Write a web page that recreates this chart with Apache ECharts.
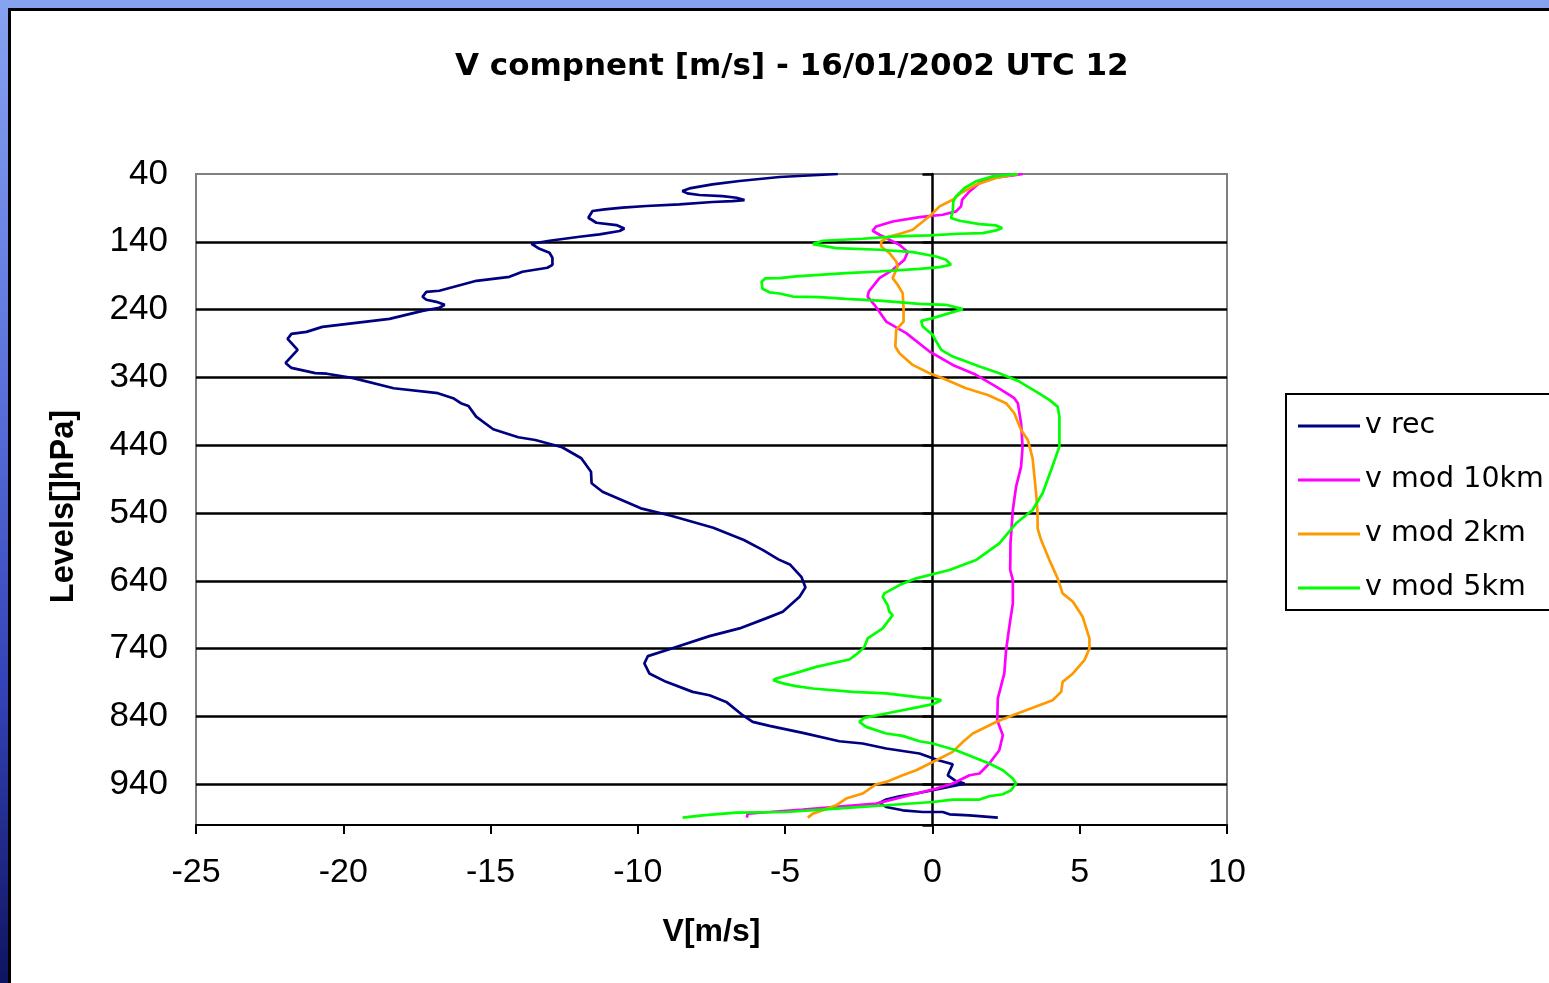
<!DOCTYPE html>
<html>
<head>
<meta charset="utf-8">
<title>V component profile</title>
<script src="https://cdn.jsdelivr.net/npm/echarts@6/dist/echarts.min.js"></script>
<style>
    html, body { margin: 0; padding: 0; }
    body {
        width: 1549px; height: 983px; overflow: hidden; position: relative;
        background: linear-gradient(180deg, #86a3f0 0%, #5f78de 35%, #3443b8 70%, #0f1460 100%);
    }
    #frame {
        position: absolute; left: 8px; top: 8px; right: 0; bottom: 0;
        background: #fff; border-left: 3px solid #000; border-top: 3px solid #000;
    }
    #chart { position: absolute; left: 0; top: 0; width: 1549px; height: 983px; }
</style>
</head>
<body>
<div id="frame"></div>
<div id="chart"></div>
<script>
// axis ranges
const xMin = -25, xMax = 10, xStep = 5;
const pMin = 40, pMax = 1000, pStep = 100;

const seriesNames = ['v rec', 'v mod 10km', 'v mod 2km', 'v mod 5km'];

// [v (m/s), level (hPa)]
const vRec = [
    [-3.21, 40], [-5.19, 44.4], [-6.55, 50.3], [-7.47, 55.4], [-8.25, 61.3], [-8.49, 65.1],
    [-8.32, 68.6], [-7.91, 71.0], [-7.13, 72.5], [-6.65, 75.0], [-6.38, 78.4], [-6.79, 79.9],
    [-7.47, 81.3], [-8.59, 84.9], [-9.71, 87.2], [-10.52, 89.7], [-11.13, 92.2], [-11.54, 94.6],
    [-11.68, 104.5], [-11.41, 111.9], [-10.73, 115.3], [-10.46, 120.3], [-10.62, 124.1],
    [-11.30, 129.1], [-11.98, 132.5], [-13.0, 138.4], [-13.61, 142.9], [-13.34, 150.3],
    [-13.0, 156.2], [-12.90, 163.5], [-12.90, 173.9], [-13.07, 178.3], [-13.92, 184.2],
    [-14.36, 191.6], [-15.48, 197.5], [-16.74, 212.2], [-17.18, 213.7], [-17.31, 221.1],
    [-17.18, 225.5], [-16.84, 228.5], [-16.56, 232.9], [-16.74, 237.3], [-17.31, 241.8],
    [-18.43, 253.6], [-20.71, 265.4], [-21.25, 272.8], [-21.76, 275.7], [-21.89, 283.1],
    [-21.55, 299.4], [-21.96, 318.6], [-21.76, 326.0], [-20.95, 333.7], [-20.56, 334.5],
    [-19.66, 341.1], [-18.29, 355.9], [-16.79, 363.2], [-16.27, 370.6], [-16.01, 378.0],
    [-15.75, 382.0], [-15.49, 397.8], [-14.91, 416.4], [-14.06, 428.2], [-13.48, 432.2],
    [-12.57, 442.9], [-11.92, 459.2], [-11.59, 479.0], [-11.57, 496.1], [-11.20, 508.5],
    [-9.90, 533.0], [-8.87, 543.9], [-7.44, 561.7], [-6.40, 579.8], [-5.75, 594.6],
    [-5.23, 608.3], [-4.84, 615.7], [-4.45, 634.0], [-4.31, 649.6], [-4.51, 663.5],
    [-5.08, 685.6], [-5.65, 695.3], [-6.55, 710.1], [-7.57, 721.5], [-8.93, 740.7],
    [-9.66, 751.0], [-9.78, 761.8], [-9.61, 776.5], [-9.04, 788.9], [-8.14, 803.7],
    [-7.57, 808.6], [-7.00, 818.5], [-6.44, 838.1], [-6.10, 848.0], [-5.53, 853.9],
    [-4.40, 864.2], [-3.16, 876.5], [-2.37, 879.8], [-1.57, 887.2], [-0.44, 894.6],
    [0.20, 904.5], [0.69, 910.5], [0.52, 926.7], [0.80, 935.2], [1.09, 939.0], [0.80, 941.5],
    [0.13, 947.7], [-0.55, 953.6], [-1.12, 957.6], [-1.57, 962.5], [-1.80, 967.5],
    [-1.57, 973.4], [-1.01, 978.3], [-0.33, 980.8], [0.35, 980.8], [0.58, 984.2],
    [1.26, 985.7], [2.22, 989.1]
];

const vMod10 = [
    [3.07, 40], [2.73, 42.1], [2.05, 45.9], [1.60, 53.3], [1.26, 65.7], [1.01, 77.9],
    [0.97, 87.8], [0.80, 95.2], [0.35, 100.1], [-0.44, 103.5], [-1.35, 110.0], [-1.91, 117.3],
    [-2.03, 123.7], [-1.80, 129.6], [-1.46, 137.0], [-1.12, 144.4], [-0.84, 155.1],
    [-0.95, 166.5], [-1.35, 181.3], [-1.80, 193.5], [-2.16, 213.3], [-2.20, 220.7],
    [-1.97, 232.9], [-1.57, 257.6], [-0.89, 274.7], [-0.10, 301.8], [0.69, 321.5],
    [1.48, 336.2], [2.16, 353.5], [2.61, 365.8], [2.78, 370.6], [2.90, 378.0], [3.01, 407.5],
    [3.06, 442.1], [3.01, 471.6], [2.84, 501.1], [2.73, 535.5], [2.65, 584.6], [2.64, 624.0],
    [2.73, 638.8], [2.73, 673.2], [2.61, 707.7], [2.50, 742.1], [2.44, 776.5], [2.22, 813.4],
    [2.20, 845.5], [2.39, 867.6], [2.27, 889.7], [1.93, 909.4], [1.60, 924.1], [1.26, 926.6],
    [0.69, 938.9], [0.13, 946.3], [-1.01, 958.7], [-1.91, 968.4], [-3.27, 973.4],
    [-4.40, 977.3], [-5.53, 980.8], [-6.27, 983.2], [-6.30, 989.1]
];

const vMod2 = [
    [2.90, 40], [2.16, 45.9], [1.48, 55.8], [0.97, 68.0], [0.69, 77.9], [0.24, 87.8],
    [-0.04, 100.1], [-0.67, 122.2], [-1.01, 127.1], [-1.46, 132.1], [-1.74, 139.5],
    [-1.74, 146.9], [-1.46, 156.6], [-1.23, 169.0], [-1.18, 176.4], [-1.35, 193.5],
    [-1.18, 203.4], [-1.01, 215.6], [-0.98, 237.8], [-0.98, 257.6], [-1.23, 269.8],
    [-1.26, 294.5], [-1.12, 304.2], [-0.67, 321.5], [-0.10, 333.7], [0.35, 341.1],
    [1.14, 355.9], [1.88, 365.8], [2.50, 378.0], [2.78, 392.8], [3.01, 417.4], [3.24, 432.2],
    [3.40, 459.2], [3.52, 510.8], [3.57, 540.4], [3.57, 562.5], [3.69, 579.8], [3.97, 609.3],
    [4.25, 636.3], [4.42, 658.4], [4.77, 670.8], [5.10, 693.0], [5.33, 724.9], [5.33, 739.6],
    [5.16, 756.9], [4.77, 776.5], [4.42, 788.9], [4.37, 803.7], [4.08, 816.0], [3.63, 823.3],
    [2.73, 838.1], [2.16, 848.0], [1.37, 865.1], [1.03, 877.5], [0.69, 892.2], [0.13, 904.5],
    [-0.55, 919.3], [-1.01, 926.6], [-1.57, 936.5], [-1.91, 939.9], [-2.37, 953.6],
    [-2.93, 961.0], [-3.27, 970.9], [-3.72, 978.3], [-4.06, 983.2], [-4.23, 989.1]
];

const vMod5 = [
    [2.90, 40], [2.05, 43.5], [1.48, 50.9], [1.09, 60.7], [0.80, 73.1], [0.71, 80.4],
    [0.69, 95.2], [0.63, 104.9], [0.92, 108.9], [1.60, 113.8], [2.16, 115.9], [2.37, 119.7],
    [2.16, 123.2], [1.71, 127.1], [0.92, 128.1], [-0.10, 130.6], [-1.23, 132.1],
    [-2.37, 135.5], [-3.72, 138.4], [-4.06, 143.3], [-3.27, 149.2], [-1.80, 151.7],
    [-0.67, 155.1], [0.13, 161.6], [0.46, 166.5], [0.63, 173.9], [0.24, 177.3],
    [-0.44, 179.8], [-1.80, 183.8], [-2.93, 186.1], [-4.63, 191.1], [-5.19, 193.5],
    [-5.67, 193.8], [-5.80, 199.0], [-5.77, 209.3], [-5.53, 214.5], [-5.19, 216.2],
    [-4.74, 220.7], [-3.84, 221.6], [-2.93, 224.1], [-1.80, 226.6], [-0.44, 231.4],
    [0.46, 232.9], [1.03, 239.3], [0.58, 245.2], [0.01, 252.5], [-0.38, 256.5],
    [-0.33, 264.9], [0.01, 277.2], [0.13, 287.1], [0.30, 299.3], [0.69, 309.2],
    [1.60, 324.0], [2.27, 333.7], [2.95, 346.1], [3.52, 360.9], [3.97, 373.1], [4.25, 383.0],
    [4.31, 397.8], [4.31, 442.1], [4.03, 476.5], [3.74, 510.8], [3.40, 535.5], [2.84, 555.1],
    [2.27, 584.6], [1.48, 609.3], [0.58, 624.0], [-0.55, 636.3], [-1.12, 646.2],
    [-1.63, 658.5], [-1.69, 663.5], [-1.52, 675.7], [-1.46, 685.6], [-1.35, 690.5],
    [-1.69, 710.1], [-2.20, 724.9], [-2.31, 737.3], [-2.54, 747.0], [-2.82, 755.9],
    [-3.95, 766.8], [-4.51, 774.2], [-5.30, 783.9], [-5.40, 786.4], [-5.25, 788.9],
    [-4.97, 792.3], [-4.63, 795.3], [-4.06, 798.7], [-2.71, 803.7], [-1.57, 806.0],
    [-0.44, 811.9], [0.01, 813.4], [0.30, 815.9], [0.01, 821.8], [-0.44, 825.8],
    [-1.57, 835.6], [-2.31, 842.0], [-2.48, 847.9], [-2.25, 855.3], [-1.57, 865.1],
    [-1.01, 868.6], [-0.44, 876.5], [0.01, 879.8], [0.80, 889.7], [1.93, 909.4],
    [2.39, 919.3], [2.73, 931.5], [2.84, 938.9], [2.67, 948.8], [2.39, 954.7], [1.93, 957.6],
    [1.60, 962.5], [0.69, 962.5], [0.01, 966.1], [-1.57, 970.9], [-3.27, 975.8],
    [-4.97, 980.8], [-6.66, 981.7], [-7.80, 985.7], [-8.48, 989.1]
];

const seriesData = [vRec, vMod10, vMod2, vMod5];
const seriesColors = ['#000080', '#ff00ff', '#ff9900', '#00ff00'];

const gridLeft = 196, gridTop = 174, gridWidth = 1031, gridHeight = 651;
// the vertical axis line sits at v = 0
const zeroOffset = -(0 - xMin) / (xMax - xMin) * gridWidth;

const chart = echarts.init(document.getElementById('chart'));

const option = {
    animation: false,
    title: {
        text: 'V compnent [m/s] - 16/01/2002 UTC 12',
        left: 450,
        top: 46,
        textStyle: { fontFamily: 'DejaVu Sans', fontSize: 31, fontWeight: 'bold', color: '#000' }
    },
    legend: {
        orient: 'vertical',
        left: 1286,
        top: 394,
        padding: [17, 12, 7, 12],
        itemGap: 24,
        itemWidth: 62,
        itemHeight: 3,
        icon: 'rect',
        borderColor: '#000',
        borderWidth: 2,
        textStyle: { fontFamily: 'DejaVu Sans', fontSize: 28.5, lineHeight: 30, color: '#000' },
        data: seriesNames
    },
    grid: {
        left: gridLeft, top: gridTop, width: gridWidth, height: gridHeight,
        show: true, borderColor: '#808080', borderWidth: 2
    },
    xAxis: {
        type: 'value',
        min: xMin, max: xMax, interval: xStep,
        name: 'V[m/s]',
        nameLocation: 'middle',
        nameGap: 91,
        nameTextStyle: { fontFamily: 'Liberation Sans', fontSize: 32, fontWeight: 'bold', color: '#000' },
        axisLine: { onZero: false, lineStyle: { color: '#000', width: 2 } },
        axisTick: { length: 9, lineStyle: { color: '#000', width: 2 } },
        axisLabel: { margin: 31, fontFamily: 'Liberation Sans', fontSize: 34, color: '#000' },
        splitLine: { show: false }
    },
    yAxis: [
        {
            type: 'value',
            inverse: true,
            min: pMin, max: pMax, interval: pStep,
            name: 'Levels[]hPa]',
            nameLocation: 'middle',
            nameRotate: 90,
            nameGap: 115,
            nameTextStyle: {
                fontFamily: 'Liberation Sans', fontSize: 32.5, fontWeight: 'bold', color: '#000',
                padding: [0, 14, 0, 0]
            },
            axisLine: { show: false, onZero: false },
            axisTick: { show: false },
            axisLabel: { margin: 28, showMaxLabel: false, fontFamily: 'Liberation Sans', fontSize: 35, color: '#000' },
            splitLine: { show: true, showMinLine: false, showMaxLine: false, lineStyle: { color: '#000', width: 2.5 } }
        },
        {
            type: 'value',
            inverse: true,
            min: pMin, max: pMax, interval: pStep,
            position: 'left',
            offset: zeroOffset,
            axisLine: { show: true, onZero: false, lineStyle: { color: '#000', width: 2.5 } },
            axisTick: { show: true, length: 10, lineStyle: { color: '#000', width: 2.5 } },
            axisLabel: { show: false },
            splitLine: { show: false }
        }
    ],
    series: seriesNames.map((name, i) => ({
        name: name,
        type: 'line',
        data: seriesData[i],
        yAxisIndex: 0,
        symbol: 'none',
        color: seriesColors[i],
        lineStyle: { color: seriesColors[i], width: 2.7 },
        z: 3 + i
    }))
};

chart.setOption(option);
window.addEventListener('resize', () => chart.resize());
</script>
</body>
</html>
